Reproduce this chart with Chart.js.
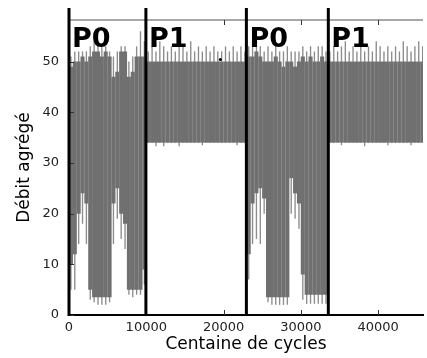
<!DOCTYPE html>
<html>
<head>
<meta charset="utf-8">
<script src="https://cdn.jsdelivr.net/npm/chart.js@4/dist/chart.umd.min.js"></script>
<style>
  body { margin: 0; background: #fff; }
  canvas { display: block; }
</style>
</head>
<body>
<canvas id="debit" width="427" height="358"></canvas>
<script>
// centres des tranches (centaines de cycles), une tranche = 500
const centaines = [250,750,1250,1750,2250,2750,3250,3750,4250,4750,
    5250,5750,6250,6750,7250,7750,8250,8750,9250,9750,
    10250,10750,11250,11750,12250,12750,13250,13750,14250,14750,
    15250,15750,16250,16750,17250,17750,18250,18750,19250,19750,
    20250,20750,21250,21750,22250,22750,23250,23750,24250,24750,
    25250,25750,26250,26750,27250,27750,28250,28750,29250,29750,
    30250,30750,31250,31750,32250,32750,33250,33750,34250,34750,
    35250,35750,36250,36750,37250,37750,38250,38750,39250,39750,
    40250,40750,41250,41750,42250,42750,43250,43750,44250,44750,
    45250,45750];

// pics (traits clairs en haut)
const pic = [51,52,52,52,52,53,54,54,53,53, 52,51,52,53,53,50,51,53,56,54,
    52,53,52,54,53,52,53,52,53,53, 52,54,52,53,52,53,52,53,52,52, 53,52,53,52,53,52,
    53,54,53,53,52,53,52,53,52,52, 53,52,52,52,53,52,53,52,53,53, 52,
    52,53,52,53,54,52,53,52,53,52, 53,52,54,53,52,53,52,53,52,54, 53,52,53,54,53];

// haut de la zone dense
const haut = [49,50,50,51,50,51,52,52,51,52, 51,47,48,52,52,47,48,51,51,51,
    50,50,50,50,50,50,50,50,50,50, 50,50,50,50,50,50,50,50,50,50, 50,50,50,50,50,50,
    51,51,52,51,50,50,50,51,50,49, 50,50,49,50,51,50,51,50,50,51, 50,
    50,50,50,50,50,50,50,50,50,50, 50,50,50,50,50,50,50,50,50,50, 50,50,50,50,50];

// bas de la zone dense
const bas = [10,12,20,24,22,5,3.5,3.5,3.5,3.5, 3.5,22,25,20,18,5,5,5,5,9,
    34,34,34,34,34,34,34,34,34,34, 34,34,34,34,34,34,34,34,34,34, 34,34,34,34,34,34,
    12,22,24,25,23,3.5,3.5,3.5,3.5,3.5, 3.5,27,24,22,8,4,4,4,4,4, 4,
    34,34,34,34,34,34,34,34,34,34, 34,34,34,34,34,34,34,34,34,34, 34,34,34,34,34];

// creux (traits clairs en bas)
const creux = [5,5,14,18,14,3,2.5,2,2,2, 2.5,14,19,15,13,4,3.5,4,4,6,
    34,34,33.3,34,33.3,34,34,34,33.3,34, 34,34,34,34,33.5,34,34,34,34,34, 34,34,34,33.5,34,34,
    7,14,15,14,20,2.5,2,2,2,2, 2,20,19,17,3,2.2,2.2,2.2,2.2,2.2, 2.2,
    34,34,34,33.5,34,34,34,34,34,33.3, 34,34,34,34,34,33.5,34,34,34,34, 34,33.5,34,34,34];

const frontieres = [0, 9950, 22950, 33550];
const phases = ["P0", "P1", "P0", "P1"];
const pointIsole = [{ x: 19580, y: 50.4 }];

const xTicks = [0, 10000, 20000, 30000, 40000];
const yTicks = [0, 10, 20, 30, 40, 50];

const decor = {
    id: "decor",
    afterDatasetsDraw(chart) {
        const { ctx, chartArea: a, scales: { x, y } } = chart;
        ctx.save();
        // bord du haut
        ctx.strokeStyle = "#a8a8a8";
        ctx.lineWidth = 2;
        ctx.beginPath();
        ctx.moveTo(a.left, a.top);
        ctx.lineTo(a.right, a.top);
        ctx.stroke();

        // petites graduations vers l'intérieur
        ctx.strokeStyle = "#333";
        ctx.lineWidth = 1;
        ctx.beginPath();
        xTicks.forEach(v => {
            const px = Math.round(x.getPixelForValue(v)) + 0.5;
            ctx.moveTo(px, a.bottom); ctx.lineTo(px, a.bottom - 5);
            ctx.moveTo(px, a.top); ctx.lineTo(px, a.top + 5);
        });
        yTicks.forEach(v => {
            const py = Math.round(y.getPixelForValue(v)) + 0.5;
            ctx.moveTo(a.left, py); ctx.lineTo(a.left + 5, py);
        });
        ctx.stroke();

        // séparations des phases
        ctx.strokeStyle = "#000";
        ctx.lineWidth = 3;
        ctx.beginPath();
        frontieres.forEach(v => {
            const px = x.getPixelForValue(v);
            ctx.moveTo(px, a.top - 12);
            ctx.lineTo(px, a.bottom + 1);
        });
        ctx.stroke();

        ctx.fillStyle = "#000";
        ctx.font = 'bold 27px "DejaVu Sans"';
        ctx.textAlign = "left";
        ctx.textBaseline = "alphabetic";
        phases.forEach((p, i) => {
            ctx.fillText(p, x.getPixelForValue(frontieres[i]) + 3, a.top + 27);
        });
        ctx.restore();
    }
};

new Chart(document.getElementById("debit"), {
    type: "bar",
    data: {
        datasets: [
            {
                label: "dense",
                data: centaines.map((c, i) => ({ x: c, y: [bas[i], haut[i]] })),
                backgroundColor: "#707070",
                borderWidth: 0,
                barPercentage: 1.05,
                categoryPercentage: 1,
                grouped: false,
                order: 1
            },
            {
                label: "clair",
                data: centaines.map((c, i) => ({ x: c, y: [creux[i], pic[i]] })),
                backgroundColor: "#8c8c8c",
                borderWidth: 0,
                barPercentage: 0.35,
                categoryPercentage: 1,
                grouped: false,
                order: 2
            },
            {
                type: "line",
                label: "point",
                data: pointIsole,
                showLine: false,
                pointRadius: 1.5,
                pointBackgroundColor: "#000",
                pointBorderWidth: 0,
                order: 0
            }
        ]
    },
    options: {
        responsive: false,
        animation: false,
        layout: { padding: { top: 20, right: 0, left: 0, bottom: 0 } },
        plugins: { legend: { display: false }, tooltip: { enabled: false } },
        scales: {
            x: {
                type: "linear",
                offset: false,
                min: 0,
                max: 45800,
                grid: { display: false, drawTicks: false },
                border: { display: true, color: "#000", width: 2 },
                afterBuildTicks: s => { s.ticks = xTicks.map(v => ({ value: v })); },
                afterFit: s => { s.height = 43; },
                ticks: {
                    padding: 5,
                    color: "#222",
                    maxRotation: 0,
                    font: { family: "DejaVu Sans", size: 13 },
                    callback: v => String(v)
                },
                title: {
                    display: true,
                    text: "Centaine de cycles",
                    color: "#000",
                    font: { family: "DejaVu Sans", size: 17 },
                    padding: { top: 0, bottom: 3 }
                }
            },
            y: {
                min: 0,
                max: 58.2,
                grid: { display: false, drawTicks: false },
                border: { display: false },
                afterBuildTicks: s => { s.ticks = yTicks.map(v => ({ value: v })); },
                afterFit: s => { s.width = 69; },
                ticks: {
                    padding: 10,
                    color: "#222",
                    font: { family: "DejaVu Sans", size: 13 }
                },
                title: {
                    display: true,
                    text: "Débit agrégé",
                    color: "#000",
                    font: { family: "DejaVu Sans", size: 17 },
                    padding: { top: 14, bottom: 0 }
                }
            }
        }
    },
    plugins: [decor]
});
</script>
</body>
</html>
